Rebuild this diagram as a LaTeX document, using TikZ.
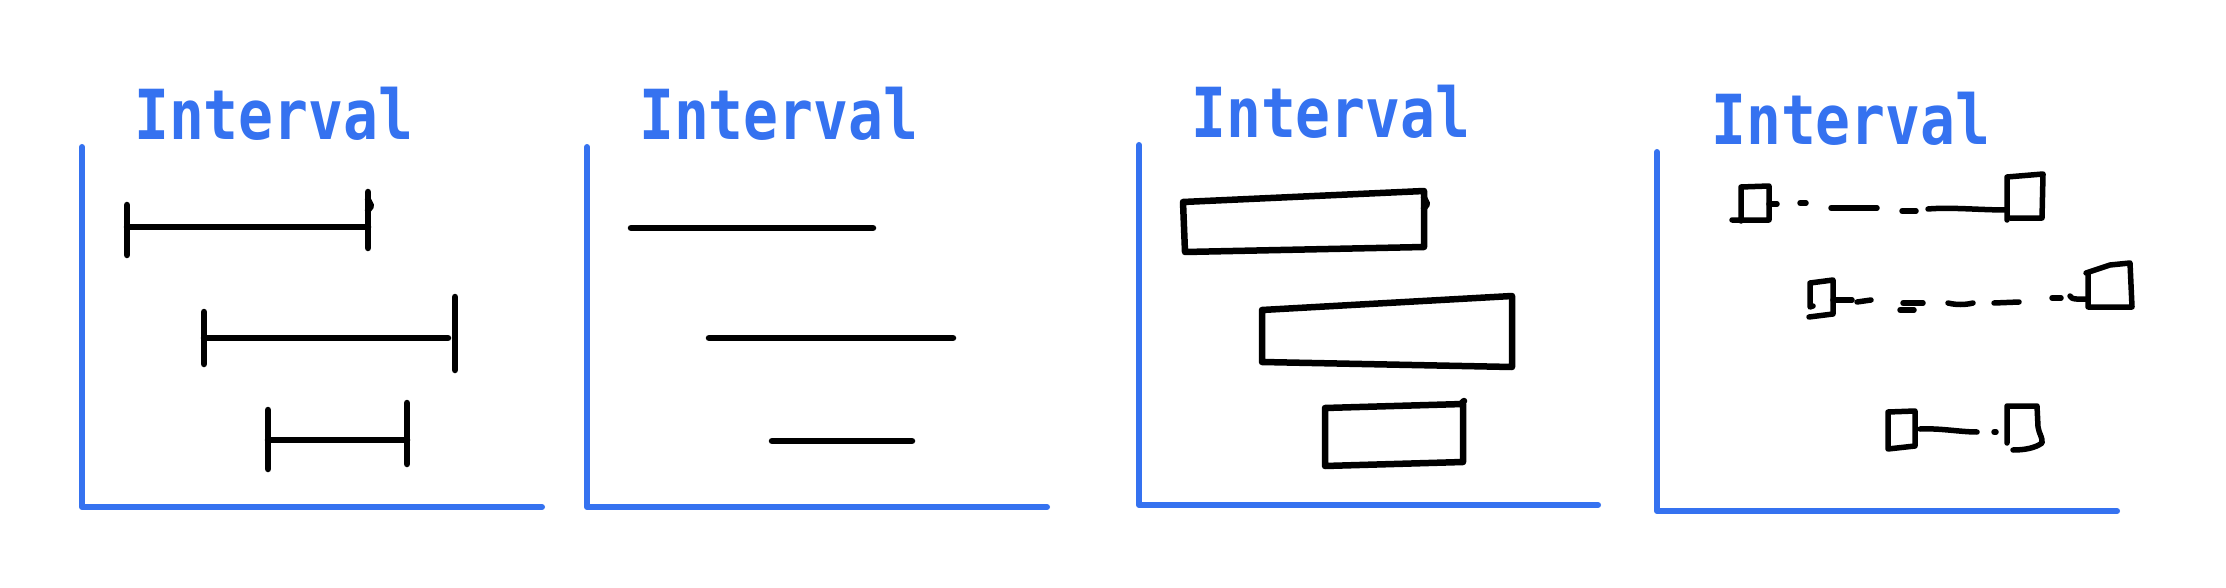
\documentclass[tikz,border=0pt]{standalone}
\usepackage{fontspec}
\newfontfamily\handfont[FakeStretch=0.84]{DejaVu Sans Mono}
\definecolor{handblue}{RGB}{53,114,240}
\begin{document}
\begin{tikzpicture}[x=1pt,y=-1pt,
  axis/.style={line width=6pt,draw=handblue,line cap=round,line join=round},
  ink/.style={line width=6.5pt,draw=black,line cap=round,line join=round},
  thinink/.style={line width=5.5pt,draw=black,line cap=round,line join=round},
  title/.style={text=handblue,font=\handfont\bfseries\fontsize{69}{76}\selectfont,anchor=base west,inner sep=0pt}]
\useasboundingbox[fill=white] (0,0) rectangle (2226,588);

% ---------- Panel 1: closed intervals ----------
\node[title] (t1) at (134,140) {Interval};
\draw[axis] (82,147) -- (82,507) -- (542,507);
\draw[ink] (127,205) -- (127,255);
\draw[ink] (127,227) -- (368,227);
\draw[ink] (368,192) -- (368,248);
\draw[ink] (368,200) -- (371,206) -- (368,210);
\draw[ink] (204,312) -- (204,364);
\draw[ink] (204,338) -- (448,338);
\draw[ink] (455,297) -- (455,370);
\draw[ink] (268,410) -- (268,469);
\draw[ink] (268,440) -- (407,440);
\draw[ink] (407,403) -- (407,464);

% ---------- Panel 2: plain segments ----------
\node[title] (t2) at (639,140) {Interval};
\draw[axis] (587,147) -- (587,507) -- (1047,507);
\draw[ink] (631,228) -- (873,228);
\draw[ink] (709,338) -- (953,338);
\draw[ink] (772,441) -- (912,441);

% ---------- Panel 3: boxes ----------
\node[title] (t3) at (1191,138) {Interval};
\draw[axis] (1139,145) -- (1139,505) -- (1598,505);
\draw[ink] (1183,202) -- (1424,191) -- (1424,247) -- (1185,252) -- cycle;
\draw[ink] (1424,198) -- (1427,204) -- (1424,208);
\draw[ink] (1262,310) -- (1512,296) -- (1512,367) -- (1262,362) -- cycle;
\draw[ink] (1325,408) -- (1463,404) -- (1463,462) -- (1325,466) -- cycle;
\draw[ink] (1461,404) -- (1464,401);

% ---------- Panel 4: end boxes with dashed links ----------
\node[title] (t4) at (1711,145) {Interval};
\draw[axis] (1657,152) -- (1657,511) -- (2117,511);
% row 1
\draw[thinink] (1732,220) -- (1769,220) -- (1769,186) -- (1741,187) -- (1741,221);
\draw[thinink] (1769,204) -- (1777,204);
\draw[thinink] (1800,203) -- (1806,203);
\draw[thinink] (1831,208) -- (1877,208);
\draw[thinink] (1902,211) -- (1916,211);
\draw[thinink] (1928,209) .. controls (1950,207) and (1980,210) .. (2007,210);
\draw[thinink] (2007,220) -- (2007,177) -- (2043,174) -- (2042,218) -- (2010,218);
% row 2
\draw[thinink] (1813,306) -- (1810,307) -- (1810,283) -- (1833,280) -- (1833,314) -- (1809,317);
\draw[thinink] (1833,300) -- (1852,300);
\draw[thinink] (1857,302) -- (1871,300);
\draw[thinink] (1903,303) -- (1923,303);
\draw[thinink] (1900,310) -- (1914,310);
\draw[thinink] (1948,303) .. controls (1956,305) and (1965,305) .. (1973,303);
\draw[thinink] (1994,303) -- (2019,302);
\draw[thinink] (2052,298) -- (2061,298);
\draw[thinink] (2070,296) .. controls (2071,300) and (2080,299) .. (2088,299);
\draw[thinink] (2086,273) -- (2110,265) -- (2130,263) -- (2132,307) -- (2088,307) -- (2088,273);
% row 3
\draw[thinink] (1888,412) -- (1915,411) -- (1915,446) -- (1888,449) -- cycle;
\draw[thinink] (1920,429) .. controls (1940,428) and (1960,432) .. (1977,432);
\draw[thinink] (1994,432) -- (1996,432);
\draw[thinink] (2007,443) -- (2007,406) -- (2037,406) -- (2038,427) .. controls (2039,434) and (2043,438) .. (2042,443) .. controls (2035,448) and (2025,450) .. (2013,450);
\end{tikzpicture}
\end{document}
